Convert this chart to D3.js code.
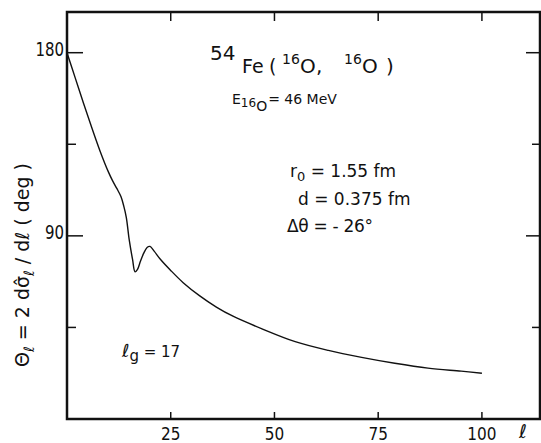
<!DOCTYPE html>
<html>
<head>
<meta charset="utf-8">
<script src="https://d3js.org/d3.v7.min.js"></script>
<style>
  body { margin: 0; background: white; }
  text { font-family: "DejaVu Sans", sans-serif; fill: #111; }
</style>
</head>
<body>
<script>
// deflection function theta_l vs l
var ell   = [0, 2, 4, 6, 8, 10, 11, 12, 13, 13.7, 14.3, 15, 15.8, 16.4, 17, 17.7, 18.5, 19.3, 20, 21, 22.5, 25, 28, 32, 36, 40, 47, 55, 63, 71, 79, 87, 95, 100];
var theta = [180, 167.5, 155, 143, 131.5, 121.3, 117, 113.3, 109.3, 104.5, 99, 88, 78.4, 72.3, 73.5, 77.5, 81.5, 84.3, 84.8, 82.5, 78.5, 73, 67, 60.5, 55, 50.5, 44.3, 38, 33.7, 30.3, 27.4, 25, 23.5, 22.5];
var xTicks = [25, 50, 75, 100];
var yTicks = [45, 90, 135, 180];
var yLabels = [90, 180];

var width = 541, height = 443;
var m = {left: 67, right: 540, top: 12, bottom: 419};

var svg = d3.select("body").append("svg")
    .attr("width", width).attr("height", height);

var x = d3.scaleLinear().domain([0, 114]).range([m.left, m.right]);
var y = d3.scaleLinear().domain([0, 200]).range([m.bottom, m.top]);

// frame
svg.append("rect")
    .attr("x", m.left).attr("y", m.top)
    .attr("width", m.right - m.left).attr("height", m.bottom - m.top)
    .attr("fill", "none").attr("stroke", "#111").attr("stroke-width", 2.5);

// ticks on all four sides
xTicks.forEach(function(t) {
  svg.append("line").attr("x1", x(t)).attr("x2", x(t))
     .attr("y1", m.bottom).attr("y2", m.bottom - 7)
     .attr("stroke", "#111").attr("stroke-width", 1.5);
  svg.append("line").attr("x1", x(t)).attr("x2", x(t))
     .attr("y1", m.top).attr("y2", m.top + 9)
     .attr("stroke", "#111").attr("stroke-width", 1.5);
});
yTicks.forEach(function(t) {
  var big = (t % 90 == 0);
  svg.append("line").attr("x1", m.left).attr("x2", m.left + (big ? 16 : 9))
     .attr("y1", y(t)).attr("y2", y(t))
     .attr("stroke", "#111").attr("stroke-width", 1.5);
  svg.append("line").attr("x1", m.right).attr("x2", m.right - (big ? 14 : 8))
     .attr("y1", y(t)).attr("y2", y(t))
     .attr("stroke", "#111").attr("stroke-width", 1.5);
});

svg.selectAll(".xl").data(xTicks).enter().append("text")
    .attr("transform", function(d) { return "translate(" + x(d) + ",440) scale(0.85,1)"; })
    .attr("text-anchor", "middle").style("font-size", "18px")
    .text(function(d) { return d; });
svg.append("text").attr("x", 523).attr("y", 438)
    .attr("text-anchor", "middle").style("font-size", "19px").style("font-style", "italic")
    .text("ℓ");

svg.selectAll(".yl").data(yLabels).enter().append("text")
    .attr("transform", function(d) { return "translate(" + (m.left - 3) + "," + (y(d) + 3) + ") scale(0.75,1)"; })
    .attr("text-anchor", "end").style("font-size", "20px")
    .text(function(d) { return d; });

// curve
var line = d3.line()
    .x(function(d, i) { return x(ell[i]); })
    .y(function(d) { return y(d); })
    .curve(d3.curveCatmullRom.alpha(0.5));
svg.append("path").datum(theta)
    .attr("d", line)
    .attr("fill", "none").attr("stroke", "#111").attr("stroke-width", 1.4);

// y axis title
var yt = svg.append("text")
    .attr("transform", "translate(29,265) rotate(-90)")
    .attr("text-anchor", "middle").style("font-size", "19px");
yt.append("tspan").text("Θ");
yt.append("tspan").attr("dy", 5).style("font-size", "14px").text("ℓ");
yt.append("tspan").attr("dy", -5).text(" = 2 dσ̂");
yt.append("tspan").attr("dy", 5).style("font-size", "14px").text("ℓ");
yt.append("tspan").attr("dy", -5).text(" / dℓ  ( deg )");

// reaction title, pieces placed like the hand lettering
var title = svg.append("text");
title.append("tspan").attr("x", 210).attr("y", 60).style("font-size", "20px").text("54");
title.append("tspan").attr("x", 242).attr("y", 73).style("font-size", "19px").text("Fe");
title.append("tspan").attr("x", 269).attr("y", 73).style("font-size", "19px").text("(");
title.append("tspan").attr("x", 282).attr("y", 64).style("font-size", "14px").text("16");
title.append("tspan").attr("x", 300).attr("y", 73).style("font-size", "20px").text("O");
title.append("tspan").attr("x", 316).attr("y", 73).style("font-size", "20px").text(",");
title.append("tspan").attr("x", 344).attr("y", 64).style("font-size", "14px").text("16");
title.append("tspan").attr("x", 362).attr("y", 73).style("font-size", "20px").text("O");
title.append("tspan").attr("x", 386).attr("y", 73).style("font-size", "20px").text(")");

var en = svg.append("text").attr("x", 232).attr("y", 104).style("font-size", "14px");
en.append("tspan").text("E");
en.append("tspan").attr("dy", 3).style("font-size", "12px").text("16");
en.append("tspan").attr("dy", 4).style("font-size", "14px").text("O");
en.append("tspan").attr("dy", -7).attr("dx", 1).text("= 46 MeV");

var r0 = svg.append("text").attr("x", 290).attr("y", 177).style("font-size", "17px");
r0.append("tspan").text("r");
r0.append("tspan").attr("dy", 4).style("font-size", "13px").text("0");
r0.append("tspan").attr("dy", -4).text(" = 1.55 fm");

svg.append("text").attr("x", 298).attr("y", 205).style("font-size", "17px").text("d = 0.375 fm");
svg.append("text").attr("x", 287).attr("y", 232).style("font-size", "17px")
    .attr("textLength", 86).text("Δθ = - 26°");

var lg = svg.append("text").attr("x", 122).attr("y", 357).style("font-size", "18px");
lg.append("tspan").style("font-style", "italic").text("ℓ");
lg.append("tspan").attr("dy", 4).style("font-size", "15px").text("g");
lg.append("tspan").attr("dy", -4).style("font-size", "15px").text(" = 17");
</script>
</body>
</html>
